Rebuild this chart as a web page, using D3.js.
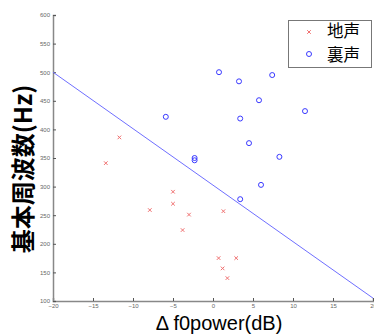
<!DOCTYPE html>
<html>
<head>
<meta charset="utf-8">
<script src="https://cdn.jsdelivr.net/npm/d3@7"></script>
<style>
  body { margin: 0; background: #fff; }
  svg { display: block; font-family: "Noto Sans CJK JP", sans-serif; }
</style>
</head>
<body>
<svg id="chart"></svg>
<script>
// 地声 (chest voice) points
const chestX = [-13.4, -11.7, -7.9, -5.0, -5.0, -3.8, -3.0, 0.7, 1.2, 1.3, 1.8, 2.9];
const chestY = [341, 386, 259, 291, 270, 224, 251, 175, 157, 257, 140, 175];
// 裏声 (falsetto) points
const falsX = [-5.9, -2.3, -2.3, 0.75, 3.25, 3.4, 3.4, 4.5, 5.75, 6.0, 7.4, 8.3, 11.5];
const falsY = [422, 350, 346, 500, 484, 419, 278, 376, 451, 303, 495, 352, 432];
// regression line end points
const lineX = [-20, 20];
const lineY = [500, 105];
const xTicks = [-20, -15, -10, -5, 0, 5, 10, 15, 20];
const yTicks = [100, 150, 200, 250, 300, 350, 400, 450, 500, 550, 600];
const legendLabels = ["地声", "裏声"];

const width = 374, height = 336;
const margin = {top: 15, right: 1, bottom: 35, left: 53};

const svg = d3.select('#chart')
  .attr('width', width)
  .attr('height', height);

const xScale = d3.scaleLinear()
  .domain([-20, 20])
  .range([margin.left, width - margin.right]);

const yScale = d3.scaleLinear()
  .domain([100, 600])
  .range([height - margin.bottom, margin.top]);

// axes
const xAxis = svg.append('g')
  .attr('transform', `translate(0, ${height - margin.bottom})`)
  .call(d3.axisBottom(xScale).tickValues(xTicks).tickSize(-3).tickPadding(3));

const yAxis = svg.append('g')
  .attr('transform', `translate(${margin.left}, 0)`)
  .call(d3.axisLeft(yScale).tickValues(yTicks).tickSize(-3).tickPadding(3));

[xAxis, yAxis].forEach(ax => {
  ax.select('.domain').attr('stroke', '#888').attr('stroke-width', 1.5);
  ax.selectAll('.tick line').attr('stroke', '#555');
  ax.selectAll('.tick text')
    .style('font-family', 'Liberation Sans')
    .style('font-size', '6px')
    .attr('fill', '#666');
});

// regression line
svg.append('line')
  .attr('x1', xScale(lineX[0]))
  .attr('y1', yScale(lineY[0]))
  .attr('x2', xScale(lineX[1]))
  .attr('y2', yScale(lineY[1]))
  .attr('stroke', '#6f6fff')
  .attr('stroke-width', 1);

// chest voice crosses
const chest = chestX.map((x, i) => ({x: x, y: chestY[i]}));
const cross = 'M-1.8,-1.8L1.8,1.8M-1.8,1.8L1.8,-1.8';
svg.selectAll('.chest')
  .data(chest)
  .join('path')
  .attr('class', 'chest')
  .attr('transform', d => `translate(${xScale(d.x)}, ${yScale(d.y)})`)
  .attr('d', cross)
  .attr('stroke', '#f07070')
  .attr('stroke-width', 1)
  .attr('fill', 'none');

// falsetto circles
const fals = falsX.map((x, i) => ({x: x, y: falsY[i]}));
svg.selectAll('.fals')
  .data(fals)
  .join('circle')
  .attr('class', 'fals')
  .attr('cx', d => xScale(d.x))
  .attr('cy', d => yScale(d.y))
  .attr('r', 2.5)
  .attr('fill', 'none')
  .attr('stroke', '#3a3aff')
  .attr('stroke-width', 1);

// legend
const legend = svg.append('g');
legend.append('rect')
  .attr('x', 288.5).attr('y', 20.5)
  .attr('width', 83).attr('height', 47)
  .attr('fill', '#fff')
  .attr('stroke', '#777')
  .attr('stroke-width', 1);

legend.append('path')
  .attr('transform', 'translate(309, 32)')
  .attr('d', cross)
  .attr('stroke', '#f07070')
  .attr('fill', 'none');
legend.append('circle')
  .attr('cx', 309).attr('cy', 54)
  .attr('r', 2.5)
  .attr('fill', 'none')
  .attr('stroke', '#3a3aff');

legend.selectAll('.legend-text')
  .data(legendLabels)
  .join('text')
  .attr('class', 'legend-text')
  .attr('x', 327)
  .attr('y', (d, i) => 31 + i * 24)
  .attr('dy', '0.35em')
  .style('font-size', '16.5px')
  .text(d => d);

// axis titles
svg.append('text')
  .attr('x', 219)
  .attr('y', 330)
  .attr('text-anchor', 'middle')
  .style('font-family', 'Liberation Sans')
  .style('font-size', '20px')
  .text('Δ f0power(dB)');

svg.append('text')
  .attr('transform', 'translate(32, 169) rotate(-90)')
  .attr('text-anchor', 'middle')
  .style('font-size', '24px')
  .style('font-weight', 'bold')
  .text('基本周波数(Hz)');
</script>
</body>
</html>
